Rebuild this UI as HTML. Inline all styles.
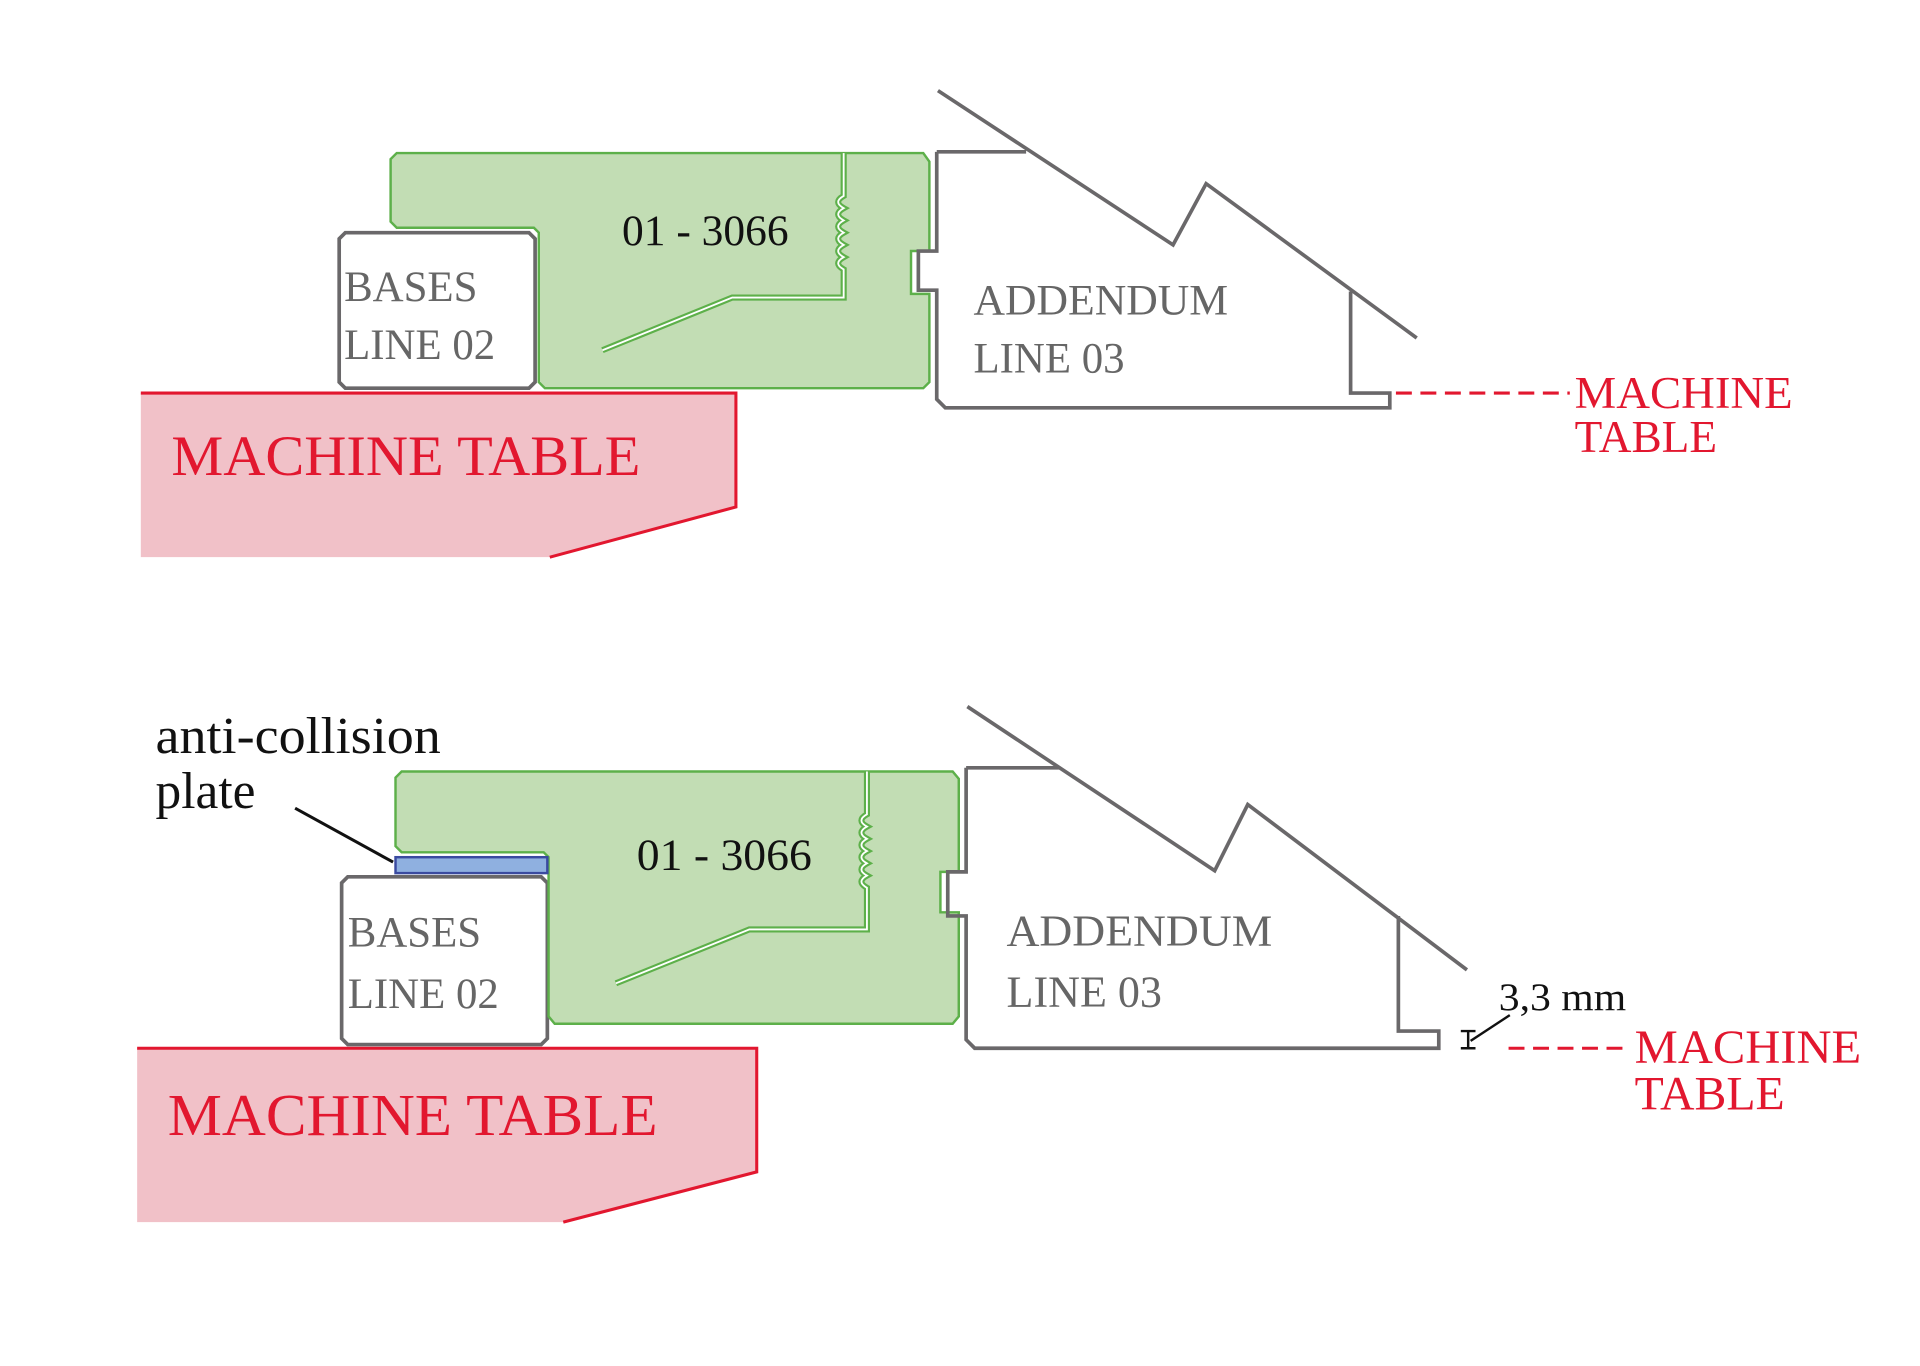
<!DOCTYPE html>
<html><head><meta charset="utf-8"><style>html,body{margin:0;padding:0;background:#fff;}svg{display:block}</style></head>
<body>
<svg width="1920" height="1366" viewBox="0 0 1568 1115.5" preserveAspectRatio="none" xmlns="http://www.w3.org/2000/svg" font-family="Liberation Serif, serif">
<rect width="1568" height="1115.5" fill="#fff"/>
<!-- TOP PANEL -->
<polygon points="115,321 601,321 601,414 449,455 115,455" fill="#f1c1c8"/>
<polyline points="115,321 601,321 601,414 449,455" fill="none" stroke="#e2172f" stroke-width="2.5"/>
<text x="140" y="388" font-size="47" fill="#e2172f" textLength="383" lengthAdjust="spacingAndGlyphs">MACHINE TABLE</text>
<path d="M282,190 H432 L437,195 V312 L432,317 H282 L277,312 V195 Z" fill="#fff" stroke="#6a686a" stroke-width="3"/>
<text x="281" y="246" font-size="35" fill="#666">BASES</text>
<text x="281" y="293" font-size="35" fill="#666">LINE 02</text>
<path d="M324,125 H754 L759,132 V205 H744 V240 H759 V312 L754,317 H445 L440,312 V190 L436,186 H324 L319,181 V130 Z" fill="#c2ddb4" stroke="#5db04a" stroke-width="2"/>
<path d="M689,125 V160 q-9,5 0,10 q-9,5 0,10 q-9,5 0,10 q-9,5 0,10 q-9,5 0,10 q-9,5 0,10 V243 H598 L492,286" fill="none" stroke="#5db04a" stroke-width="5"/>
<path d="M689,125 V160 q-9,5 0,10 q-9,5 0,10 q-9,5 0,10 q-9,5 0,10 q-9,5 0,10 q-9,5 0,10 V243 H598 L492,286" fill="none" stroke="#fff" stroke-width="1.5"/>
<text x="508" y="200" font-size="35" fill="#111" textLength="136" lengthAdjust="spacingAndGlyphs">01 - 3066</text>
<path d="M765,124 H838 M766,74 L958,200 L985,150 L1157,276 M765,124 V205 H750 V237 H765 V326 L772,333 H1135 V321 H1103 V238" fill="none" stroke="#6a686a" stroke-width="3"/>
<text x="795" y="257" font-size="35" fill="#666" textLength="208" lengthAdjust="spacingAndGlyphs">ADDENDUM</text>
<text x="795" y="304" font-size="35" fill="#666">LINE 03</text>
<line x1="1140" y1="321" x2="1282" y2="321" stroke="#e2172f" stroke-width="2.5" stroke-dasharray="13,7"/>
<text x="1286" y="333" font-size="37" fill="#e2172f" textLength="178" lengthAdjust="spacingAndGlyphs">MACHINE</text>
<text x="1286" y="369" font-size="37" fill="#e2172f">TABLE</text>
<!-- BOTTOM PANEL -->
<polygon points="112,856 618,856 618,957 460,998 112,998" fill="#f1c1c8"/>
<polyline points="112,856 618,856 618,957 460,998" fill="none" stroke="#e2172f" stroke-width="2.5"/>
<text x="137" y="927" font-size="48" fill="#e2172f" textLength="400" lengthAdjust="spacingAndGlyphs">MACHINE TABLE</text>
<path d="M284,716 H442 L447,721 V848 L442,853 H284 L279,848 V721 Z" fill="#fff" stroke="#6a686a" stroke-width="3"/>
<text x="284" y="773" font-size="35" fill="#666">BASES</text>
<text x="284" y="823" font-size="35" fill="#666">LINE 02</text>
<path d="M328,630 H778 L783,636 V712 H768 V745 H783 V830 L778,836 H453 L448,830 V700 L444,696 H328 L323,691 V635 Z" fill="#c2ddb4" stroke="#5db04a" stroke-width="2"/>
<path d="M708,630 V665 q-9,5 0,10 q-9,5 0,10 q-9,5 0,10 q-9,5 0,10 q-9,5 0,10 q-9,5 0,10 V759 H612 L503,803" fill="none" stroke="#5db04a" stroke-width="5"/>
<path d="M708,630 V665 q-9,5 0,10 q-9,5 0,10 q-9,5 0,10 q-9,5 0,10 q-9,5 0,10 q-9,5 0,10 V759 H612 L503,803" fill="none" stroke="#fff" stroke-width="1.5"/>
<rect x="323" y="700" width="124" height="13" fill="#8fb0e0" stroke="#3a4aa0" stroke-width="2"/>
<text x="520" y="710" font-size="36" fill="#111" textLength="143" lengthAdjust="spacingAndGlyphs">01 - 3066</text>
<path d="M789,627 H866 M790,577 L992,711 L1019,657 L1198,792 M789,627 V712 H774 V748 H789 V849 L796,856 H1175 V842 H1142 V748" fill="none" stroke="#6a686a" stroke-width="3"/>
<text x="822" y="772" font-size="36" fill="#666" textLength="217" lengthAdjust="spacingAndGlyphs">ADDENDUM</text>
<text x="822" y="822" font-size="36" fill="#666">LINE 03</text>
<text x="127" y="615" font-size="42" fill="#111" textLength="233" lengthAdjust="spacingAndGlyphs">anti-collision</text>
<text x="127" y="660" font-size="42" fill="#111">plate</text>
<line x1="241" y1="660" x2="321" y2="704" stroke="#111" stroke-width="2.5"/>
<text x="1224" y="825" font-size="32" fill="#111" textLength="104" lengthAdjust="spacingAndGlyphs">3,3 mm</text>
<path d="M1193,842 H1205 M1199,842 V856 M1193,856 H1205 M1201,850 L1233,829" fill="none" stroke="#111" stroke-width="2"/>
<line x1="1232" y1="856" x2="1330" y2="856" stroke="#e2172f" stroke-width="2.5" stroke-dasharray="13,7"/>
<text x="1335" y="868" font-size="39" fill="#e2172f" textLength="185" lengthAdjust="spacingAndGlyphs">MACHINE</text>
<text x="1335" y="906" font-size="39" fill="#e2172f">TABLE</text>
</svg>
</body></html>
